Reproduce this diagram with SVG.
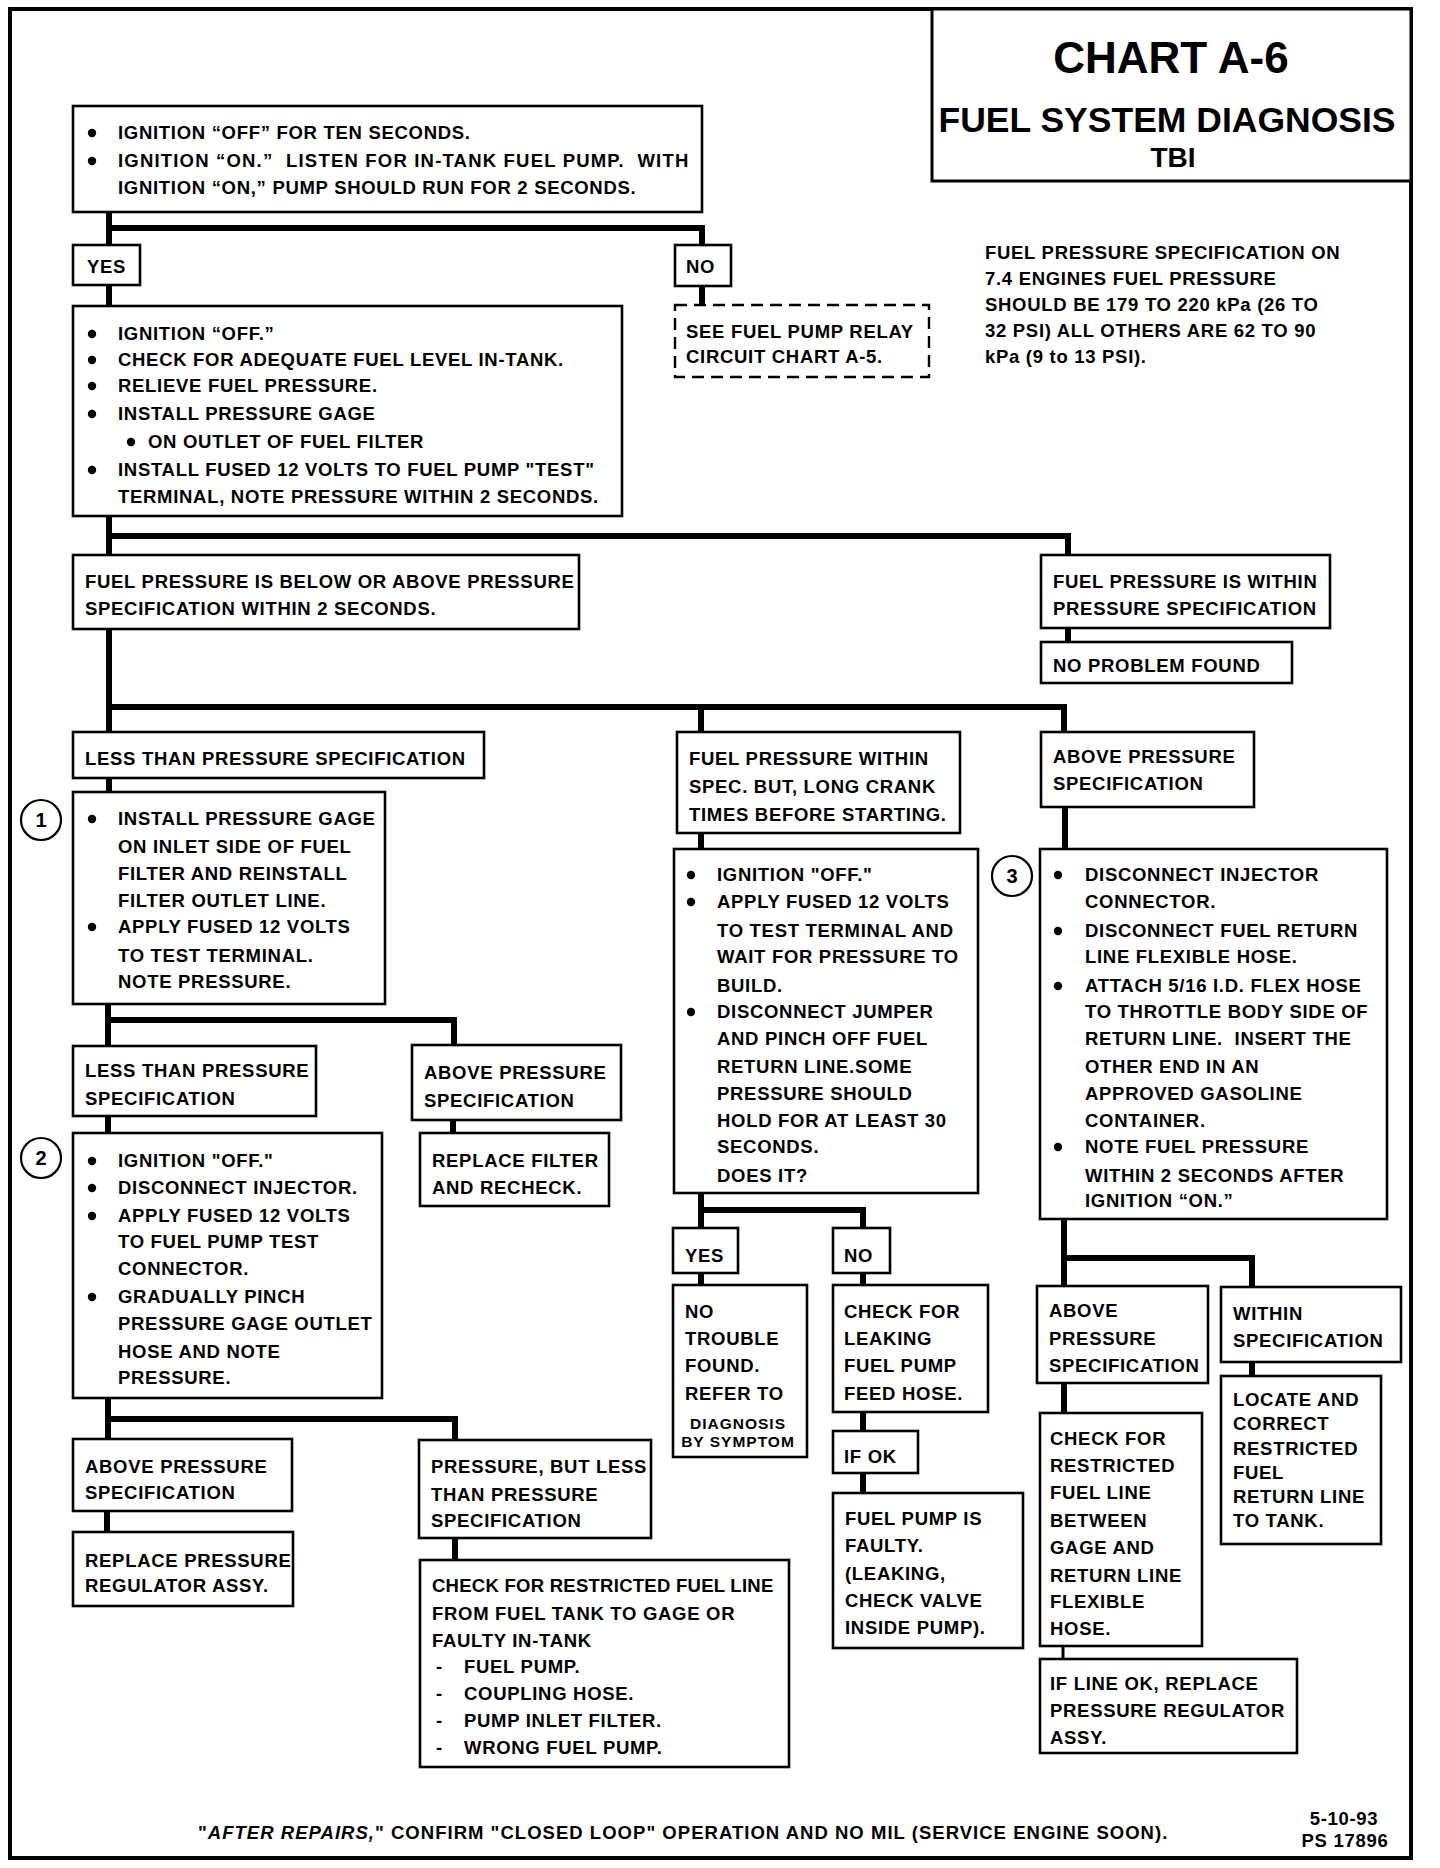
<svg xmlns="http://www.w3.org/2000/svg" width="1440" height="1868" viewBox="0 0 1440 1868">
<style>
.bx{fill:#fff;stroke:#000;stroke-width:2.6}
.dbx{fill:#fff;stroke:#000;stroke-width:2.4;stroke-dasharray:12 7}
.t{font-family:"Liberation Sans",Arial,sans-serif;font-weight:700;font-size:18.5px;letter-spacing:0.7px;fill:#000}
.sm{font-family:"Liberation Sans",Arial,sans-serif;font-weight:700;font-size:15.5px;letter-spacing:1px;fill:#000}
.c{fill:none;stroke:#000;stroke-width:6}
.c2{fill:none;stroke:#000;stroke-width:3}
.circ{fill:#fff;stroke:#000;stroke-width:2.2}
</style>
<defs>
<circle id="bl" r="4.2" fill="#000"/>
</defs>
<rect x="0" y="0" width="1440" height="1868" fill="#fff"/>
<rect x="10" y="9" width="1401" height="1849" fill="none" stroke="#000" stroke-width="4"/>

<g id="connectors">
<path class="c" d="M109 212V245M109 228H702V245"/>
<path class="c" d="M109 285V306"/>
<path class="c" d="M702 286V305"/>
<path class="c" d="M109 516V555M109 536H1068V555"/>
<path class="c" d="M1068 628V642"/>
<path class="c" d="M109 629V732M109 707H1064V732M701 707V732"/>
<path class="c" d="M109 778V792"/>
<path class="c" d="M108 1004V1046M108 1020H454V1046"/>
<path class="c" d="M108 1116V1133M453 1120V1133"/>
<path class="c" d="M108 1398V1439M108 1419H455V1440"/>
<path class="c" d="M107 1511V1532M455 1538V1560"/>
<path class="c" d="M701 833V849"/>
<path class="c" d="M701 1193V1229M701 1210H863V1229"/>
<path class="c" d="M701 1273V1286M863 1273V1286M863 1412V1431M863 1473V1493"/>
<path class="c" d="M1065 807V849"/>
<path class="c" d="M1064 1219V1286M1064 1258H1252V1287"/>
<path class="c" d="M1252 1362V1376M1064 1383V1413"/>
<path class="c2" d="M1063 1646V1659"/>
</g>

<g id="title">
<rect x="932" y="9" width="479" height="172" fill="#fff" stroke="#000" stroke-width="3"/>
<text x="1171" y="73" text-anchor="middle" font-family="Liberation Sans,Arial,sans-serif" font-weight="700" font-size="44">CHART A-6</text>
<text x="1167" y="132" text-anchor="middle" font-family="Liberation Sans,Arial,sans-serif" font-weight="700" font-size="35.5">FUEL SYSTEM DIAGNOSIS</text>
<text x="1173" y="167" text-anchor="middle" font-family="Liberation Sans,Arial,sans-serif" font-weight="700" font-size="28">TBI</text>
</g>

<g id="spec-note">
<text class="t" x="985" y="259">FUEL PRESSURE SPECIFICATION ON</text>
<text class="t" x="985" y="285">7.4 ENGINES FUEL PRESSURE</text>
<text class="t" x="985" y="311">SHOULD BE 179 TO 220 kPa (26 TO</text>
<text class="t" x="985" y="337">32 PSI) ALL OTHERS ARE 62 TO 90</text>
<text class="t" x="985" y="363">kPa (9 to 13 PSI).</text>
</g>

<g id="n-start">
<rect class="bx" x="73" y="106" width="629" height="106"/>
<use href="#bl" x="92" y="133"/><use href="#bl" x="92" y="161"/>
<text class="t" x="118" y="139">IGNITION “OFF” FOR TEN SECONDS.</text>
<text class="t" x="118" y="167" textLength="571" xml:space="preserve">IGNITION “ON.”  LISTEN FOR IN-TANK FUEL PUMP.  WITH</text>
<text class="t" x="118" y="194">IGNITION “ON,” PUMP SHOULD RUN FOR 2 SECONDS.</text>
</g>

<g id="n-yes1"><rect class="bx" x="73" y="245" width="67" height="40"/><text class="t" x="87" y="273">YES</text></g>
<g id="n-no1"><rect class="bx" x="675" y="245" width="56" height="41"/><text class="t" x="686" y="273">NO</text></g>
<g id="n-relay">
<rect class="dbx" x="675" y="305" width="254" height="72"/>
<text class="t" x="686" y="338">SEE FUEL PUMP RELAY</text>
<text class="t" x="686" y="363">CIRCUIT CHART A-5.</text>
</g>

<g id="n-gage">
<rect class="bx" x="73" y="306" width="549" height="210"/>
<use href="#bl" x="92" y="334"/><use href="#bl" x="92" y="360"/><use href="#bl" x="92" y="386"/><use href="#bl" x="92" y="414"/><use href="#bl" x="131" y="442"/><use href="#bl" x="92" y="470"/>
<text class="t" x="118" y="340">IGNITION “OFF.”</text>
<text class="t" x="118" y="366">CHECK FOR ADEQUATE FUEL LEVEL IN-TANK.</text>
<text class="t" x="118" y="392">RELIEVE FUEL PRESSURE.</text>
<text class="t" x="118" y="420">INSTALL PRESSURE GAGE</text>
<text class="t" x="148" y="448">ON OUTLET OF FUEL FILTER</text>
<text class="t" x="118" y="476">INSTALL FUSED 12 VOLTS TO FUEL PUMP "TEST"</text>
<text class="t" x="118" y="503">TERMINAL, NOTE PRESSURE WITHIN 2 SECONDS.</text>
</g>

<g id="n-below-above">
<rect class="bx" x="73" y="555" width="506" height="74"/>
<text class="t" x="85" y="588">FUEL PRESSURE IS BELOW OR ABOVE PRESSURE</text>
<text class="t" x="85" y="615">SPECIFICATION WITHIN 2 SECONDS.</text>
</g>
<g id="n-within">
<rect class="bx" x="1041" y="555" width="289" height="73"/>
<text class="t" x="1053" y="588">FUEL PRESSURE IS WITHIN</text>
<text class="t" x="1053" y="615">PRESSURE SPECIFICATION</text>
</g>
<g id="n-npf"><rect class="bx" x="1041" y="642" width="251" height="41"/><text class="t" x="1053" y="672">NO PROBLEM FOUND</text></g>

<g id="n-less1"><rect class="bx" x="73" y="732" width="411" height="46"/><text class="t" x="85" y="765">LESS THAN PRESSURE SPECIFICATION</text></g>
<g id="n-crank">
<rect class="bx" x="677" y="732" width="283" height="101"/>
<text class="t" x="689" y="765">FUEL PRESSURE WITHIN</text>
<text class="t" x="689" y="793">SPEC. BUT, LONG CRANK</text>
<text class="t" x="689" y="821">TIMES BEFORE STARTING.</text>
</g>
<g id="n-above1">
<rect class="bx" x="1041" y="732" width="213" height="75"/>
<text class="t" x="1053" y="763">ABOVE PRESSURE</text>
<text class="t" x="1053" y="790">SPECIFICATION</text>
</g>

<g id="n-step1">
<circle class="circ" cx="41" cy="820" r="20"/>
<text x="41" y="827" text-anchor="middle" font-family="Liberation Sans,Arial,sans-serif" font-weight="700" font-size="20">1</text>
<rect class="bx" x="73" y="792" width="312" height="212"/>
<use href="#bl" x="92" y="819"/><use href="#bl" x="92" y="927"/>
<text class="t" x="118" y="825">INSTALL PRESSURE GAGE</text>
<text class="t" x="118" y="853">ON INLET SIDE OF FUEL</text>
<text class="t" x="118" y="880">FILTER AND REINSTALL</text>
<text class="t" x="118" y="907">FILTER OUTLET LINE.</text>
<text class="t" x="118" y="933">APPLY FUSED 12 VOLTS</text>
<text class="t" x="118" y="962">TO TEST TERMINAL.</text>
<text class="t" x="118" y="988">NOTE PRESSURE.</text>
</g>

<g id="n-less2">
<rect class="bx" x="73" y="1046" width="243" height="70"/>
<text class="t" x="85" y="1077">LESS THAN PRESSURE</text>
<text class="t" x="85" y="1105">SPECIFICATION</text>
</g>
<g id="n-above2">
<rect class="bx" x="412" y="1045" width="209" height="75"/>
<text class="t" x="424" y="1079">ABOVE PRESSURE</text>
<text class="t" x="424" y="1107">SPECIFICATION</text>
</g>
<g id="n-filter">
<rect class="bx" x="420" y="1133" width="189" height="73"/>
<text class="t" x="432" y="1167">REPLACE FILTER</text>
<text class="t" x="432" y="1194">AND RECHECK.</text>
</g>

<g id="n-step2">
<circle class="circ" cx="41" cy="1158" r="20"/>
<text x="41" y="1165" text-anchor="middle" font-family="Liberation Sans,Arial,sans-serif" font-weight="700" font-size="20">2</text>
<rect class="bx" x="73" y="1133" width="309" height="265"/>
<use href="#bl" x="92" y="1161"/><use href="#bl" x="92" y="1188"/><use href="#bl" x="92" y="1216"/><use href="#bl" x="92" y="1297"/>
<text class="t" x="118" y="1167">IGNITION "OFF."</text>
<text class="t" x="118" y="1194">DISCONNECT INJECTOR.</text>
<text class="t" x="118" y="1222">APPLY FUSED 12 VOLTS</text>
<text class="t" x="118" y="1248">TO FUEL PUMP TEST</text>
<text class="t" x="118" y="1275">CONNECTOR.</text>
<text class="t" x="118" y="1303">GRADUALLY PINCH</text>
<text class="t" x="118" y="1330">PRESSURE GAGE OUTLET</text>
<text class="t" x="118" y="1358">HOSE AND NOTE</text>
<text class="t" x="118" y="1384">PRESSURE.</text>
</g>

<g id="n-above3">
<rect class="bx" x="73" y="1439" width="219" height="72"/>
<text class="t" x="85" y="1473">ABOVE PRESSURE</text>
<text class="t" x="85" y="1499">SPECIFICATION</text>
</g>
<g id="n-regulator">
<rect class="bx" x="73" y="1532" width="220" height="74"/>
<text class="t" x="85" y="1567">REPLACE PRESSURE</text>
<text class="t" x="85" y="1592">REGULATOR ASSY.</text>
</g>
<g id="n-butless">
<rect class="bx" x="419" y="1440" width="232" height="98"/>
<text class="t" x="431" y="1473">PRESSURE, BUT LESS</text>
<text class="t" x="431" y="1501">THAN PRESSURE</text>
<text class="t" x="431" y="1527">SPECIFICATION</text>
</g>
<g id="n-restricted1">
<rect class="bx" x="420" y="1560" width="369" height="207"/>
<text class="t" x="432" y="1592" textLength="342">CHECK FOR RESTRICTED FUEL LINE</text>
<text class="t" x="432" y="1620">FROM FUEL TANK TO GAGE OR</text>
<text class="t" x="432" y="1647">FAULTY IN-TANK</text>
<text class="t" x="436" y="1673">-</text><text class="t" x="464" y="1673">FUEL PUMP.</text>
<text class="t" x="436" y="1700">-</text><text class="t" x="464" y="1700">COUPLING HOSE.</text>
<text class="t" x="436" y="1727">-</text><text class="t" x="464" y="1727">PUMP INLET FILTER.</text>
<text class="t" x="436" y="1754">-</text><text class="t" x="464" y="1754">WRONG FUEL PUMP.</text>
</g>

<g id="n-jumper">
<rect class="bx" x="674" y="849" width="304" height="344"/>
<use href="#bl" x="691" y="875"/><use href="#bl" x="691" y="902"/><use href="#bl" x="691" y="1012"/>
<text class="t" x="717" y="881">IGNITION "OFF."</text>
<text class="t" x="717" y="908">APPLY FUSED 12 VOLTS</text>
<text class="t" x="717" y="937">TO TEST TERMINAL AND</text>
<text class="t" x="717" y="963">WAIT FOR PRESSURE TO</text>
<text class="t" x="717" y="992">BUILD.</text>
<text class="t" x="717" y="1018">DISCONNECT JUMPER</text>
<text class="t" x="717" y="1045">AND PINCH OFF FUEL</text>
<text class="t" x="717" y="1073">RETURN LINE.SOME</text>
<text class="t" x="717" y="1100">PRESSURE SHOULD</text>
<text class="t" x="717" y="1127">HOLD FOR AT LEAST 30</text>
<text class="t" x="717" y="1153">SECONDS.</text>
<text class="t" x="717" y="1182">DOES IT?</text>
</g>
<g id="n-yes2"><rect class="bx" x="673" y="1228" width="65" height="45"/><text class="t" x="685" y="1262">YES</text></g>
<g id="n-no2"><rect class="bx" x="833" y="1228" width="57" height="45"/><text class="t" x="844" y="1262">NO</text></g>
<g id="n-notrouble">
<rect class="bx" x="673" y="1285" width="134" height="172"/>
<text class="t" x="685" y="1318">NO</text>
<text class="t" x="685" y="1345">TROUBLE</text>
<text class="t" x="685" y="1372">FOUND.</text>
<text class="t" x="685" y="1400">REFER TO</text>
<text class="sm" x="738" y="1429" text-anchor="middle">DIAGNOSIS</text>
<text class="sm" x="738" y="1447" text-anchor="middle">BY SYMPTOM</text>
</g>
<g id="n-leaking">
<rect class="bx" x="833" y="1285" width="155" height="127"/>
<text class="t" x="844" y="1318">CHECK FOR</text>
<text class="t" x="844" y="1345">LEAKING</text>
<text class="t" x="844" y="1372">FUEL PUMP</text>
<text class="t" x="844" y="1400">FEED HOSE.</text>
</g>
<g id="n-ifok"><rect class="bx" x="833" y="1431" width="85" height="42"/><text class="t" x="844" y="1463">IF OK</text></g>
<g id="n-faulty">
<rect class="bx" x="833" y="1493" width="190" height="155"/>
<text class="t" x="845" y="1525">FUEL PUMP IS</text>
<text class="t" x="845" y="1552">FAULTY.</text>
<text class="t" x="845" y="1580">(LEAKING,</text>
<text class="t" x="845" y="1607">CHECK VALVE</text>
<text class="t" x="845" y="1634">INSIDE PUMP).</text>
</g>

<g id="n-step3">
<circle class="circ" cx="1012" cy="876" r="20"/>
<text x="1012" y="883" text-anchor="middle" font-family="Liberation Sans,Arial,sans-serif" font-weight="700" font-size="20">3</text>
<rect class="bx" x="1040" y="849" width="347" height="370"/>
<use href="#bl" x="1058" y="875"/><use href="#bl" x="1058" y="931"/><use href="#bl" x="1058" y="986"/><use href="#bl" x="1058" y="1147"/>
<text class="t" x="1085" y="881">DISCONNECT INJECTOR</text>
<text class="t" x="1085" y="908">CONNECTOR.</text>
<text class="t" x="1085" y="937">DISCONNECT FUEL RETURN</text>
<text class="t" x="1085" y="963">LINE FLEXIBLE HOSE.</text>
<text class="t" x="1085" y="992">ATTACH 5/16 I.D. FLEX HOSE</text>
<text class="t" x="1085" y="1018">TO THROTTLE BODY SIDE OF</text>
<text class="t" x="1085" y="1045" xml:space="preserve">RETURN LINE.  INSERT THE</text>
<text class="t" x="1085" y="1073">OTHER END IN AN</text>
<text class="t" x="1085" y="1100">APPROVED GASOLINE</text>
<text class="t" x="1085" y="1127">CONTAINER.</text>
<text class="t" x="1085" y="1153">NOTE FUEL PRESSURE</text>
<text class="t" x="1085" y="1182">WITHIN 2 SECONDS AFTER</text>
<text class="t" x="1085" y="1207">IGNITION “ON.”</text>
</g>
<g id="n-above4">
<rect class="bx" x="1037" y="1286" width="171" height="97"/>
<text class="t" x="1049" y="1317">ABOVE</text>
<text class="t" x="1049" y="1345">PRESSURE</text>
<text class="t" x="1049" y="1372">SPECIFICATION</text>
</g>
<g id="n-within2">
<rect class="bx" x="1221" y="1287" width="180" height="75"/>
<text class="t" x="1233" y="1320">WITHIN</text>
<text class="t" x="1233" y="1347">SPECIFICATION</text>
</g>
<g id="n-locate">
<rect class="bx" x="1221" y="1376" width="160" height="168"/>
<text class="t" x="1233" y="1406">LOCATE AND</text>
<text class="t" x="1233" y="1430">CORRECT</text>
<text class="t" x="1233" y="1455">RESTRICTED</text>
<text class="t" x="1233" y="1479">FUEL</text>
<text class="t" x="1233" y="1503">RETURN LINE</text>
<text class="t" x="1233" y="1527">TO TANK.</text>
</g>
<g id="n-restricted2">
<rect class="bx" x="1040" y="1413" width="162" height="233"/>
<text class="t" x="1050" y="1445">CHECK FOR</text>
<text class="t" x="1050" y="1472">RESTRICTED</text>
<text class="t" x="1050" y="1499">FUEL LINE</text>
<text class="t" x="1050" y="1527">BETWEEN</text>
<text class="t" x="1050" y="1554">GAGE AND</text>
<text class="t" x="1050" y="1582">RETURN LINE</text>
<text class="t" x="1050" y="1608">FLEXIBLE</text>
<text class="t" x="1050" y="1635">HOSE.</text>
</g>
<g id="n-lineok">
<rect class="bx" x="1040" y="1659" width="257" height="94"/>
<text class="t" x="1050" y="1690">IF LINE OK, REPLACE</text>
<text class="t" x="1050" y="1717">PRESSURE REGULATOR</text>
<text class="t" x="1050" y="1744">ASSY.</text>
</g>

<g id="footer">
<text class="t" x="198" y="1839" textLength="970">"<tspan font-style="italic">AFTER REPAIRS,</tspan>" CONFIRM "CLOSED LOOP" OPERATION AND NO MIL (SERVICE ENGINE SOON).</text>
<text class="t" x="1344" y="1825" text-anchor="middle">5-10-93</text>
<text class="t" x="1345" y="1847" text-anchor="middle">PS 17896</text>
</g>
</svg>
